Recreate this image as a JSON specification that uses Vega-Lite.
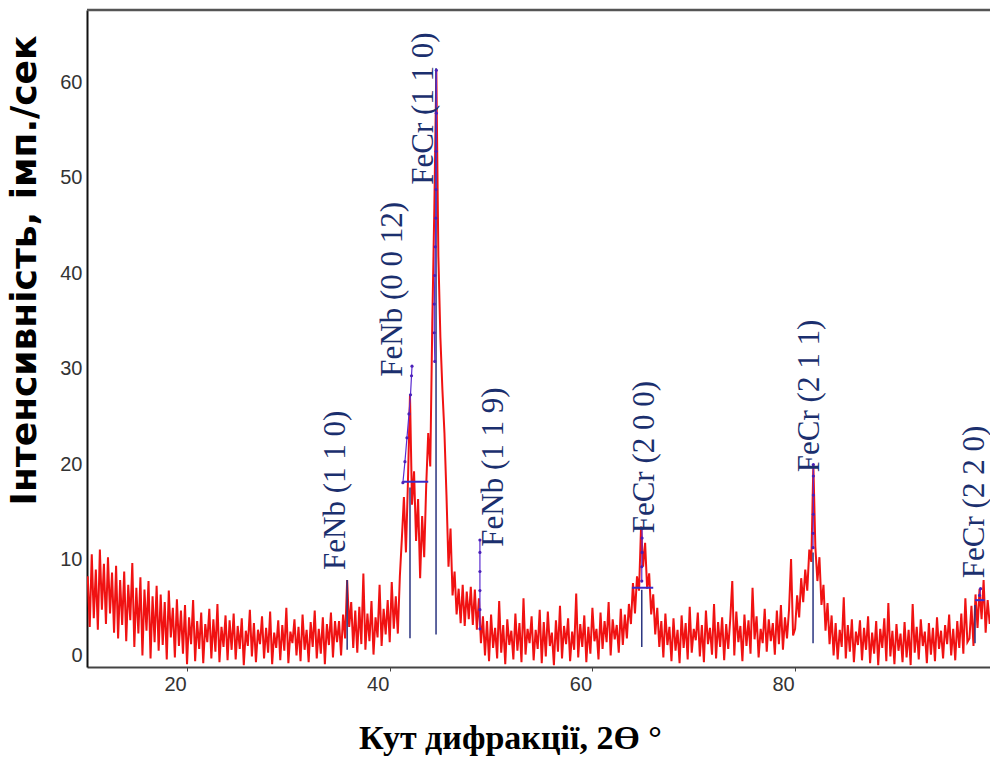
{
"$schema": "https://vega.github.io/schema/vega-lite/v6.json",
"width": 903, "height": 657,
"autosize": "none",
"padding": {"left": 87, "top": 10, "right": 0, "bottom": 91},
"background": "white",
"config": {"view": {"stroke": null}},
"datasets": {
"scan": [
{"x":10.2,"y":9.5},{"x":10.4,"y":4.2},{"x":10.6,"y":11.8},{"x":10.8,"y":5.1},{"x":11.0,"y":10.2},{"x":11.2,"y":3.9},{"x":11.4,"y":12.3},{"x":11.6,"y":6.0},{"x":11.8,"y":10.8},{"x":12.0,"y":4.5},{"x":12.2,"y":11.5},{"x":12.4,"y":5.6},{"x":12.6,"y":9.9},{"x":12.8,"y":3.6},
{"x":13.0,"y":10.6},{"x":13.2,"y":3.0},{"x":13.4,"y":9.1},{"x":13.6,"y":4.4},{"x":13.8,"y":10.0},{"x":14.0,"y":2.7},{"x":14.2,"y":8.6},{"x":14.4,"y":4.9},{"x":14.6,"y":10.9},{"x":14.8,"y":2.1},{"x":15.0,"y":8.3},
{"x":15.2,"y":3.5},{"x":15.4,"y":9.4},{"x":15.6,"y":1.2},{"x":15.8,"y":8.1},{"x":16.0,"y":3.8},{"x":16.2,"y":9.0},{"x":16.4,"y":0.9},{"x":16.6,"y":7.4},{"x":16.8,"y":2.6},{"x":17.0,"y":8.5},{"x":17.2,"y":1.7},
{"x":17.4,"y":7.6},{"x":17.6,"y":2.3},{"x":17.8,"y":6.8},{"x":18.0,"y":0.8},{"x":18.2,"y":8.0},{"x":18.4,"y":3.1},{"x":18.6,"y":6.2},{"x":18.8,"y":1.0},{"x":19.0,"y":7.1},{"x":19.2,"y":2.2},{"x":19.4,"y":5.9},
{"x":19.6,"y":1.4},{"x":19.8,"y":6.5},{"x":20.0,"y":0.3},{"x":20.2,"y":5.2},{"x":20.4,"y":2.4},{"x":20.6,"y":7.0},{"x":20.8,"y":0.6},{"x":21.0,"y":4.8},{"x":21.2,"y":1.9},{"x":21.4,"y":5.7},{"x":21.6,"y":0.4},{"x":21.8,"y":4.5},{"x":22.0,"y":2.6},{"x":22.2,"y":6.1},{"x":22.4,"y":0.9},{"x":22.6,"y":5.0},{"x":22.8,"y":1.6},{"x":23.0,"y":6.6},{"x":23.2,"y":0.5},{"x":23.4,"y":4.2},{"x":23.6,"y":2.1},{"x":23.8,"y":5.4},{"x":24.0,"y":0.7},{"x":24.2,"y":4.9},{"x":24.4,"y":1.8},
{"x":24.6,"y":5.6},{"x":24.8,"y":0.8},{"x":25.0,"y":4.3},{"x":25.2,"y":1.9},{"x":25.4,"y":5.1},{"x":25.6,"y":0.2},{"x":25.8,"y":3.8},{"x":26.0,"y":2.2},{"x":26.2,"y":6.0},{"x":26.4,"y":1.1},{"x":26.6,"y":4.6},{"x":26.8,"y":0.5},{"x":27.0,"y":3.9},{"x":27.2,"y":2.4},{"x":27.4,"y":5.3},{"x":27.6,"y":0.9},{"x":27.8,"y":4.1},{"x":28.0,"y":1.5},{"x":28.2,"y":5.8},{"x":28.4,"y":0.3},{"x":28.6,"y":3.6},{"x":28.8,"y":2.0},{"x":29.0,"y":4.9},{"x":29.2,"y":0.7},{"x":29.4,"y":4.4},{"x":29.6,"y":1.7},{"x":29.8,"y":6.2},{"x":30.0,"y":0.4},{"x":30.2,"y":3.7},{"x":30.4,"y":2.5},{"x":30.6,"y":5.0},{"x":30.8,"y":1.2},{"x":31.0,"y":4.2},{"x":31.2,"y":0.6},{"x":31.4,"y":5.5},{"x":31.6,"y":1.8},{"x":31.8,"y":3.9},{"x":32.0,"y":0.5},{"x":32.2,"y":4.7},{"x":32.4,"y":2.1},{"x":32.6,"y":5.9},{"x":32.8,"y":0.9},{"x":33.0,"y":4.0},{"x":33.2,"y":1.4},{"x":33.4,"y":5.2},{"x":33.6,"y":0.3},{"x":33.8,"y":4.5},{"x":34.0,"y":2.3},{"x":34.2,"y":5.7},{"x":34.4,"y":1.0},{"x":34.6,"y":4.8},{"x":34.8,"y":2.6},
{"x":35.0,"y":4.8},{"x":35.2,"y":1.2},{"x":35.4,"y":5.5},{"x":35.6,"y":3.0},{"x":35.8,"y":9.1},{"x":36.0,"y":4.2},{"x":36.2,"y":6.8},{"x":36.4,"y":2.0},{"x":36.6,"y":5.9},{"x":36.8,"y":1.5},{"x":37.0,"y":6.3},{"x":37.2,"y":2.4},{"x":37.4,"y":9.8},{"x":37.6,"y":1.8},{"x":37.8,"y":5.6},{"x":38.0,"y":2.7},{"x":38.2,"y":6.9},{"x":38.4,"y":1.3},{"x":38.6,"y":5.2},{"x":38.8,"y":3.1},{"x":39.0,"y":8.6},{"x":39.2,"y":2.2},{"x":39.4,"y":6.1},{"x":39.6,"y":3.4},{"x":39.8,"y":7.0},{"x":40.0,"y":2.6},{"x":40.2,"y":8.9},{"x":40.4,"y":4.0},{"x":40.6,"y":7.4},{"x":40.8,"y":3.5},{"x":41.0,"y":9.5},
{"x":41.2,"y":13.5},{"x":41.4,"y":17.8},{"x":41.6,"y":12.0},{"x":41.8,"y":19.5},{"x":42.0,"y":28.5},{"x":42.2,"y":17.0},{"x":42.4,"y":20.5},{"x":42.6,"y":13.2},{"x":42.8,"y":17.6},{"x":43.0,"y":9.3},{"x":43.2,"y":15.8},{"x":43.4,"y":11.5},{"x":43.6,"y":19.0},{"x":43.8,"y":24.5},{"x":44.0,"y":21.0},{"x":44.2,"y":36.0},{"x":44.4,"y":48.0},{"x":44.6,"y":62.5},{"x":44.8,"y":43.0},{"x":45.0,"y":34.5},{"x":45.2,"y":29.0},{"x":45.4,"y":24.5},{"x":45.6,"y":18.0},{"x":45.8,"y":10.5},{"x":46.0,"y":14.5},{"x":46.2,"y":7.5},{"x":46.4,"y":10.0},{"x":46.6,"y":5.5},{"x":46.8,"y":8.2},{"x":47.0,"y":4.6},
{"x":47.2,"y":8.6},{"x":47.4,"y":4.3},{"x":47.6,"y":7.9},{"x":47.8,"y":5.0},{"x":48.0,"y":8.4},{"x":48.2,"y":4.4},{"x":48.4,"y":8.1},{"x":48.6,"y":3.9},{"x":48.8,"y":7.2},{"x":49.0,"y":2.5},{"x":49.2,"y":5.3},
{"x":49.4,"y":1.2},{"x":49.6,"y":4.8},{"x":49.8,"y":0.6},{"x":50.0,"y":5.5},{"x":50.2,"y":2.0},{"x":50.4,"y":4.1},{"x":50.6,"y":0.9},{"x":50.8,"y":6.9},{"x":51.0,"y":1.5},{"x":51.2,"y":4.4},{"x":51.4,"y":0.3},{"x":51.6,"y":5.0},{"x":51.8,"y":2.3},{"x":52.0,"y":3.8},{"x":52.2,"y":0.8},{"x":52.4,"y":5.6},{"x":52.6,"y":1.7},{"x":52.8,"y":4.6},{"x":53.0,"y":0.5},{"x":53.2,"y":7.2},{"x":53.4,"y":1.3},{"x":53.6,"y":4.0},{"x":53.8,"y":2.5},{"x":54.0,"y":5.3},{"x":54.2,"y":0.7},{"x":54.4,"y":3.9},{"x":54.6,"y":1.9},{"x":54.8,"y":6.0},{"x":55.0,"y":0.4},{"x":55.2,"y":4.7},{"x":55.4,"y":1.1},{"x":55.6,"y":5.8},{"x":55.8,"y":2.2},{"x":56.0,"y":3.6},{"x":56.2,"y":0.2},{"x":56.4,"y":4.9},{"x":56.6,"y":1.6},{"x":56.8,"y":6.4},{"x":57.0,"y":0.9},{"x":57.2,"y":4.3},{"x":57.4,"y":2.4},{"x":57.6,"y":5.1},{"x":57.8,"y":0.6},{"x":58.0,"y":3.7},{"x":58.2,"y":1.8},{"x":58.4,"y":7.7},{"x":58.6,"y":1.0},{"x":58.8,"y":4.5},{"x":59.0,"y":2.1},{"x":59.2,"y":5.4},{"x":59.4,"y":0.5},{"x":59.6,"y":4.2},{"x":59.8,"y":1.4},{"x":60.0,"y":6.2},{"x":60.2,"y":2.7},{"x":60.4,"y":4.0},{"x":60.6,"y":0.8},{"x":60.8,"y":5.7},{"x":61.0,"y":1.9},{"x":61.2,"y":4.8},{"x":61.4,"y":2.6},{"x":61.6,"y":6.8},{"x":61.8,"y":1.2},{"x":62.0,"y":5.0},{"x":62.2,"y":2.9},{"x":62.4,"y":4.4},{"x":62.6,"y":1.5},{"x":62.8,"y":6.1},{"x":63.0,"y":2.3},{"x":63.2,"y":5.5},{"x":63.4,"y":3.0},{"x":63.6,"y":6.6},
{"x":63.8,"y":4.5},{"x":64.0,"y":8.8},{"x":64.2,"y":5.6},{"x":64.4,"y":9.5},{"x":64.6,"y":8.0},{"x":64.8,"y":14.7},{"x":65.0,"y":10.5},{"x":65.2,"y":13.0},{"x":65.4,"y":8.2},{"x":65.6,"y":9.8},{"x":65.8,"y":5.5},{"x":66.0,"y":7.6},{"x":66.2,"y":3.4},{"x":66.4,"y":6.2},{"x":66.6,"y":2.1},
{"x":66.8,"y":4.8},{"x":67.0,"y":1.0},{"x":67.2,"y":5.6},{"x":67.4,"y":2.3},{"x":67.6,"y":4.2},{"x":67.8,"y":0.6},{"x":68.0,"y":5.1},{"x":68.2,"y":1.7},{"x":68.4,"y":3.9},{"x":68.6,"y":0.4},{"x":68.8,"y":5.4},{"x":69.0,"y":2.0},{"x":69.2,"y":4.6},{"x":69.4,"y":0.8},{"x":69.6,"y":6.3},{"x":69.8,"y":1.5},{"x":70.0,"y":4.0},{"x":70.2,"y":2.8},{"x":70.4,"y":5.7},{"x":70.6,"y":1.1},{"x":70.8,"y":4.4},{"x":71.0,"y":0.5},{"x":71.2,"y":5.9},{"x":71.4,"y":2.4},{"x":71.6,"y":4.1},{"x":71.8,"y":1.3},{"x":72.0,"y":6.6},{"x":72.2,"y":0.9},{"x":72.4,"y":4.7},{"x":72.6,"y":2.1},{"x":72.8,"y":5.2},{"x":73.0,"y":0.7},{"x":73.2,"y":4.5},{"x":73.4,"y":1.9},{"x":73.6,"y":5.0},{"x":73.8,"y":9.0},{"x":74.0,"y":1.2},{"x":74.2,"y":5.8},{"x":74.4,"y":2.6},{"x":74.6,"y":4.3},{"x":74.8,"y":0.6},{"x":75.0,"y":5.5},{"x":75.2,"y":2.2},{"x":75.4,"y":4.9},{"x":75.6,"y":1.4},{"x":75.8,"y":8.3},{"x":76.0,"y":2.9},{"x":76.2,"y":5.3},{"x":76.4,"y":1.0},{"x":76.6,"y":4.0},{"x":76.8,"y":2.5},{"x":77.0,"y":6.1},{"x":77.2,"y":1.6},{"x":77.4,"y":5.0},{"x":77.6,"y":2.7},{"x":77.8,"y":4.6},{"x":78.0,"y":1.3},{"x":78.2,"y":5.9},{"x":78.4,"y":2.4},{"x":78.6,"y":6.5},{"x":78.8,"y":1.8},{"x":79.0,"y":5.2},{"x":79.2,"y":3.0},{"x":79.4,"y":6.0},{"x":79.6,"y":11.3},{"x":79.8,"y":3.3},
{"x":80.0,"y":4.0},{"x":80.2,"y":7.5},{"x":80.4,"y":5.2},{"x":80.6,"y":9.3},{"x":80.8,"y":6.8},{"x":81.0,"y":10.2},{"x":81.2,"y":8.0},{"x":81.4,"y":12.3},{"x":81.6,"y":11.0},{"x":81.8,"y":21.2},{"x":82.0,"y":12.5},{"x":82.2,"y":9.0},{"x":82.4,"y":11.5},{"x":82.6,"y":6.5},{"x":82.8,"y":8.6},{"x":83.0,"y":3.8},{"x":83.2,"y":6.7},{"x":83.4,"y":2.4},
{"x":83.6,"y":5.4},{"x":83.8,"y":1.2},{"x":84.0,"y":4.6},{"x":84.2,"y":0.8},{"x":84.4,"y":3.9},{"x":84.6,"y":2.1},{"x":84.8,"y":7.3},{"x":85.0,"y":0.9},{"x":85.2,"y":4.4},{"x":85.4,"y":1.6},{"x":85.6,"y":5.0},{"x":85.8,"y":0.5},{"x":86.0,"y":3.7},{"x":86.2,"y":2.3},{"x":86.4,"y":4.9},{"x":86.6,"y":0.7},{"x":86.8,"y":4.1},{"x":87.0,"y":1.8},{"x":87.2,"y":5.3},{"x":87.4,"y":0.4},{"x":87.6,"y":3.6},{"x":87.8,"y":1.4},{"x":88.0,"y":4.8},{"x":88.2,"y":0.2},{"x":88.4,"y":4.0},{"x":88.6,"y":2.0},{"x":88.8,"y":5.1},{"x":89.0,"y":0.6},{"x":89.2,"y":6.7},{"x":89.4,"y":1.1},{"x":89.6,"y":3.8},{"x":89.8,"y":0.3},{"x":90.0,"y":4.5},{"x":90.2,"y":1.7},{"x":90.4,"y":3.5},{"x":90.6,"y":0.5},{"x":90.8,"y":4.7},{"x":91.0,"y":1.0},{"x":91.2,"y":3.9},{"x":91.4,"y":0.2},{"x":91.6,"y":6.6},{"x":91.8,"y":1.5},{"x":92.0,"y":4.2},{"x":92.2,"y":0.8},{"x":92.4,"y":5.0},{"x":92.6,"y":2.2},{"x":92.8,"y":3.7},{"x":93.0,"y":0.4},{"x":93.2,"y":4.6},{"x":93.4,"y":1.3},{"x":93.6,"y":4.1},{"x":93.8,"y":0.6},{"x":94.0,"y":5.2},{"x":94.2,"y":1.9},{"x":94.4,"y":3.8},{"x":94.6,"y":0.9},{"x":94.8,"y":4.4},{"x":95.0,"y":2.4},{"x":95.2,"y":5.5},{"x":95.4,"y":1.2},{"x":95.6,"y":4.0},{"x":95.8,"y":0.7},{"x":96.0,"y":4.8},{"x":96.2,"y":2.0},{"x":96.4,"y":5.6},{"x":96.6,"y":1.4},{"x":96.8,"y":7.2},{"x":97.0,"y":2.6},
{"x":97.2,"y":3.0},{"x":97.4,"y":6.4},{"x":97.6,"y":2.2},{"x":97.8,"y":7.6},{"x":98.0,"y":4.1},{"x":98.2,"y":8.2},{"x":98.4,"y":5.0},{"x":98.6,"y":9.1},{"x":98.8,"y":3.6},{"x":99.0,"y":7.0},{"x":99.2,"y":4.5}
],
"refs": [
{"x":35.8,"y":1.8,"y2":9.1},{"x":42.0,"y":3.0,"y2":18.8},{"x":44.57,"y":3.4,"y2":62.7},{"x":64.87,"y":2.1,"y2":8.1},{"x":81.77,"y":2.5,"y2":12.0},{"x":97.75,"y":2.5,"y2":6.5}
],
"bars": [
{"x":41.3,"x2":43.8,"y":19.4},{"x":63.9,"x2":66.0,"y":8.3},{"x":97.75,"x2":98.7,"y":7.0}
],
"fit": [
{"g":"a","i":1,"x":44.6,"y":62.5},{"g":"a","i":2,"x":44.6,"y":58},{"g":"a","i":3,"x":44.58,"y":54},{"g":"a","i":4,"x":44.57,"y":50},{"g":"a","i":5,"x":44.55,"y":47},{"g":"a","i":6,"x":44.5,"y":44},{"g":"a","i":7,"x":44.45,"y":41},{"g":"a","i":8,"x":44.4,"y":38},{"g":"a","i":9,"x":44.4,"y":35},{"g":"a","i":10,"x":44.45,"y":32},
{"g":"b","i":1,"x":41.3,"y":19.3},{"g":"b","i":2,"x":41.5,"y":21.5},{"g":"b","i":3,"x":41.7,"y":24},{"g":"b","i":4,"x":41.9,"y":26.5},{"g":"b","i":5,"x":42.05,"y":28.5},{"g":"b","i":6,"x":42.15,"y":30.5},{"g":"b","i":7,"x":42.2,"y":31.5},
{"g":"c","i":1,"x":48.9,"y":4},{"g":"c","i":2,"x":48.9,"y":6},{"g":"c","i":3,"x":48.9,"y":8},{"g":"c","i":4,"x":48.9,"y":10},{"g":"c","i":5,"x":48.9,"y":12},{"g":"c","i":6,"x":48.9,"y":13.3},
{"g":"d","i":1,"x":64.87,"y":9},{"g":"d","i":2,"x":64.87,"y":10.5},{"g":"d","i":3,"x":64.9,"y":12},{"g":"d","i":4,"x":64.9,"y":13.5},{"g":"d","i":5,"x":64.9,"y":14.5},
{"g":"e","i":1,"x":81.77,"y":12.5},{"g":"e","i":2,"x":81.77,"y":14},{"g":"e","i":3,"x":81.8,"y":16},{"g":"e","i":4,"x":81.8,"y":18},{"g":"e","i":5,"x":81.8,"y":20},{"g":"e","i":6,"x":81.8,"y":21.2},
{"g":"f","i":1,"x":98.2,"y":7.5},{"g":"f","i":2,"x":98.3,"y":8.2}
],
"labels": [
{"x":34.7,"y":10.16,"t":"FeNb (1 1 0)"},{"x":40.33,"y":30.4,"t":"FeNb (0 0 12)"},{"x":43.38,"y":50.5,"t":"FeCr (1 1 0)"},{"x":50.29,"y":12.6,"t":"FeNb (1 1 9)"},{"x":65.19,"y":14.0,"t":"FeCr (2 0 0)"},{"x":81.47,"y":20.4,"t":"FeCr (2 1 1)"},{"x":97.75,"y":9.3,"t":"FeCr (2 2 0)"}
],
"frame": [{"y": 68.8}]
},
"layer": [
{"data": {"name": "scan"},
 "mark": {"type": "line", "color": "#f01212", "strokeWidth": 2, "clip": true},
 "encoding": {
  "x": {"field": "x", "type": "quantitative", "scale": {"domain": [10.13, 99.23], "nice": false, "zero": false},
   "axis": {"values": [20, 40, 60, 80], "title": "Кут дифракції, 2Ө °", "grid": false,
    "domainColor": "#444444", "domainWidth": 2, "tickColor": "#444444", "tickSize": 4, "tickWidth": 1,
    "labelOffset": -12, "labelFont": "Liberation Sans", "labelFontSize": 20, "labelColor": "#333333", "labelPadding": 3,
    "titleFont": "Liberation Serif", "titleFontSize": 34, "titleFontWeight": "bold", "titleColor": "#000000",
    "titleX": 423, "titleY": 81, "titleBaseline": "alphabetic", "titleAlign": "center"}},
  "y": {"field": "y", "type": "quantitative", "scale": {"domain": [0, 68.8], "nice": false, "zero": false},
   "axis": {"values": [0, 10, 20, 30, 40, 50, 60], "title": "Інтенсивність, імп./сек", "grid": false, "ticks": false,
    "domainColor": "#111111", "domainWidth": 2,
    "labelOffset": -12, "labelPadding": 5, "labelFont": "Liberation Sans", "labelFontSize": 20, "labelColor": "#333333",
    "titleFont": "DejaVu Sans", "titleFontSize": 36, "titleFontWeight": "bold", "titleColor": "#000000",
    "titleX": -52, "titleY": 260, "titleAngle": 270, "titleBaseline": "alphabetic", "titleAlign": "center"}}
 }},
{"data": {"name": "frame"},
 "mark": {"type": "rule", "color": "#555555", "strokeWidth": 2.5},
 "encoding": {"y": {"field": "y", "type": "quantitative"}}},
{"data": {"name": "refs"},
 "mark": {"type": "rule", "color": "#2a3480", "strokeWidth": 1.5},
 "encoding": {"x": {"field": "x", "type": "quantitative"}, "y": {"field": "y", "type": "quantitative"}, "y2": {"field": "y2"}}},
{"data": {"name": "bars"},
 "mark": {"type": "rule", "color": "#3a2cc8", "strokeWidth": 2},
 "encoding": {"x": {"field": "x", "type": "quantitative"}, "x2": {"field": "x2"}, "y": {"field": "y", "type": "quantitative"}}},
{"data": {"name": "fit"},
 "mark": {"type": "line", "color": "#5a2bd0", "strokeWidth": 1.2, "point": {"filled": true, "size": 10, "color": "#4a20b8"}},
 "encoding": {"x": {"field": "x", "type": "quantitative"}, "y": {"field": "y", "type": "quantitative"}, "detail": {"field": "g"}, "order": {"field": "i"}}},
{"data": {"name": "labels"},
 "mark": {"type": "text", "angle": 270, "align": "left", "baseline": "middle", "font": "Liberation Serif", "fontSize": 31, "color": "#1b2f6e"},
 "encoding": {"x": {"field": "x", "type": "quantitative"}, "y": {"field": "y", "type": "quantitative"}, "text": {"field": "t"}}}
]
}
